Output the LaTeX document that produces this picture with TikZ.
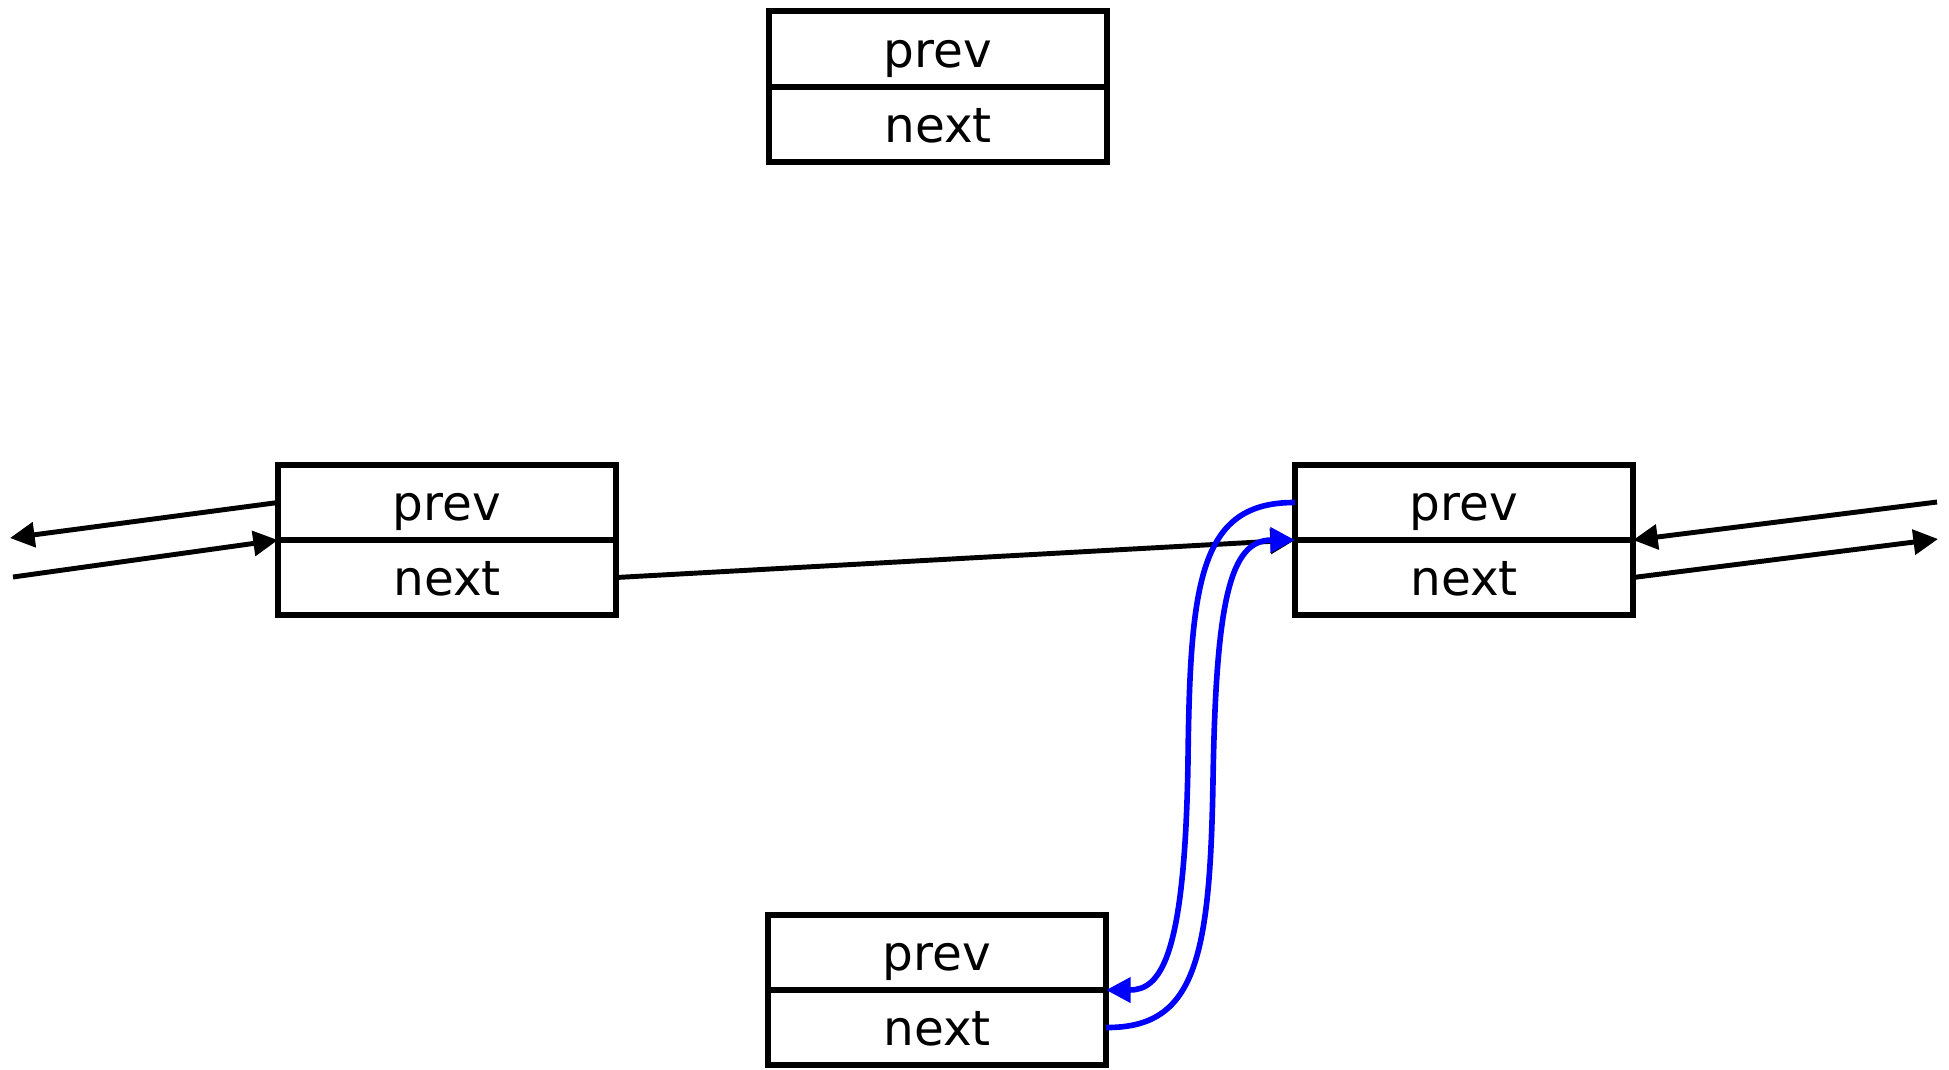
\documentclass[tikz,border=0pt]{standalone}
\usepackage{fontspec}
\setmainfont{DejaVu Sans}
\usetikzlibrary{arrows.meta}

\tikzset{
  cell/.style={draw=black, line width=1.7pt, rectangle, inner sep=0pt, outer sep=0pt,
    minimum width=3.38cm, minimum height=0.75cm,
    text height=0.54cm, text depth=0.18cm,
    font=\fontsize{13.8}{16}\selectfont},
  link/.style={draw=black, line width=1.4pt, -{Triangle[length=7pt,width=7pt]}},
  bluelink/.style={draw=blue, line width=1.6pt, -{Triangle[length=7pt,width=7pt]}}
}

\begin{document}
\begin{tikzpicture}[x=0.01cm, y=-0.01cm]
  \useasboundingbox (0,0) rectangle (1949,1069);

  % the entry being inserted (top) and the entry shown below
  \node[cell] (Tp) at (938,49)     {prev};
  \node[cell] (Tn) at (938,124.5)  {next};
  \node[cell] (Bp) at (937,952.5)  {prev};
  \node[cell] (Bn) at (937,1027.5) {next};

  % the two neighbouring list entries
  \node[cell] (Lp) at (447,502.5)  {prev};
  \node[cell] (Ln) at (447,577.5)  {next};
  \node[cell] (Rp) at (1464,502.5) {prev};
  \node[cell] (Rn) at (1464,577.5) {next};

  % loose ends towards the rest of the list
  \coordinate (lout) at (10,538);
  \coordinate (lin)  at (13,577);
  \coordinate (rin)  at (1937,502);
  \coordinate (rout) at (1938,539);

  \draw[link] (Lp.west) -- (lout);
  \draw[link] (lin) -- (Lp.south west);
  \draw[link] (rin) -- (Rp.south east);
  \draw[link] (Rn.east) -- (rout);

  % next pointer between the neighbours
  \draw[link] (Ln.east) -- (Rp.south west);

  % new links to the entry below
  \draw[bluelink] (Rp.west) .. controls (1200,502) and (1190,580) .. (1188,760)
                            .. controls (1185,960) and (1160,990) .. (Bp.south east);
  \draw[bluelink] (Bn.east) .. controls (1195,1028) and (1210,960) .. (1213,780)
                            .. controls (1216,600) and (1230,540) .. (Rp.south west);
\end{tikzpicture}
\end{document}
